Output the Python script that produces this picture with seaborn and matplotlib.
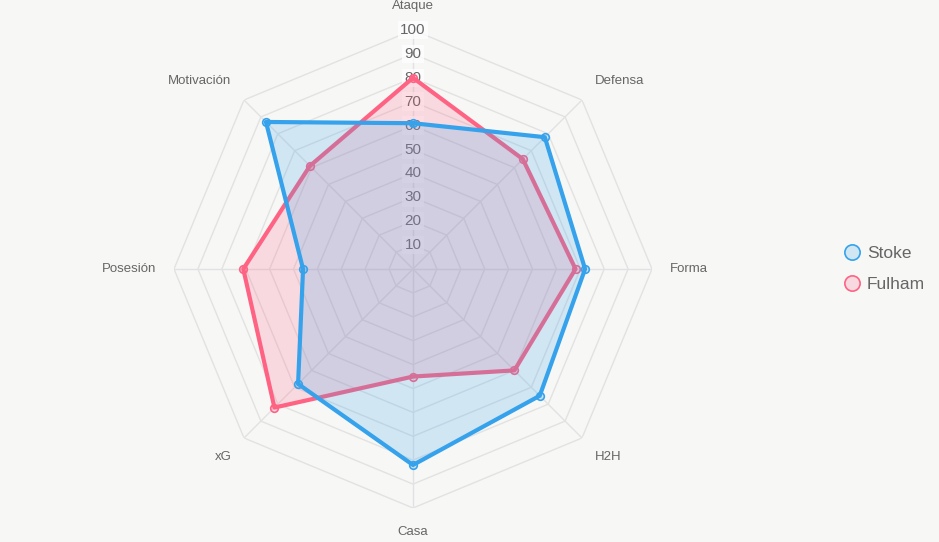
import numpy as np
import matplotlib
matplotlib.use("Agg")
import matplotlib.pyplot as plt
import seaborn as sns
from matplotlib.lines import Line2D

categories = ["Ataque", "Defensa", "Forma", "H2H", "Casa", "xG", "Posesión", "Motivación"]
stoke = [61, 78, 72, 75, 82, 68, 46, 87]
fulham = [80, 65, 68, 60, 45, 82, 71, 61]
ticks = [10, 20, 30, 40, 50, 60, 70, 80, 90, 100]
series_names = ["Stoke", "Fulham"]

sns.set_style("white")
plt.rcParams['font.family'] = ['Liberation Sans', 'DejaVu Sans']

W, H = 939, 542
bg = "#f7f7f6"
fig = plt.figure(figsize=(W / 100, H / 100), dpi=100, facecolor=bg)
cx, cy, R = 413, 269, 239
ax = fig.add_axes([(cx - R) / W, (H - cy - R) / H, 2 * R / W, 2 * R / H], projection="polar")
ax.set_facecolor("none")
ax.set_theta_zero_location("N")
ax.set_theta_direction(-1)
ax.set_ylim(0, 100)
ax.grid(False)
ax.spines["polar"].set_visible(False)
ax.set_xticks([])
ax.set_yticks([])

n = len(categories)
theta = np.arange(n) * 2 * np.pi / n
theta_c = np.append(theta, theta[0])

grid_col = "#e2e2e2"
for t in ticks:
    ax.plot(theta_c, [t] * (n + 1), color=grid_col, lw=1, zorder=1)
for th in theta:
    ax.plot([th, th], [0, 100], color=grid_col, lw=1, zorder=1)

for t in ticks:
    ax.text(0, t, str(t), ha="center", va="center", fontsize=11, color="#666666", zorder=2,
            bbox=dict(boxstyle="square,pad=0.15", fc="white", ec="none", alpha=0.75))

colors = {"Stoke": "#36A2EB", "Fulham": "#FF6384"}
data = {"Stoke": stoke, "Fulham": fulham}
for z, name in [(3, "Fulham"), (5, "Stoke")]:
    vals = data[name]
    vc = np.append(vals, vals[0])
    col = colors[name]
    ax.fill(theta_c, vc, color=col, alpha=0.2, lw=0, zorder=z)
    sns.lineplot(x=theta_c, y=vc, sort=False, ax=ax, color=col, lw=3, zorder=z + 0.5,
                 estimator=None)
    ax.scatter(theta, vals, s=30, facecolor=matplotlib.colors.to_rgba(col, 0.2),
               edgecolor=col, linewidth=1.2, zorder=z + 0.6)

rl = 107.5
for th, lab in zip(theta, categories):
    s, c = np.sin(th), np.cos(th)
    ha = "center" if abs(s) < 1e-6 else ("left" if s > 0 else "right")
    if abs(c) < 1e-6:
        va = "center"
    else:
        va = "bottom" if c > 0 else "top"
    ax.text(th, rl, lab, ha=ha, va=va, fontsize=9.5, color="#666666")

handles = [Line2D([0], [0], marker="o", linestyle="none", markersize=11,
                  markerfacecolor=matplotlib.colors.to_rgba(colors[nm], 0.2),
                  markeredgecolor=colors[nm], markeredgewidth=1.2) for nm in series_names]
fig.legend(handles, series_names, loc="center left", bbox_to_anchor=(826 / W, 1 - 269 / H),
           frameon=False, fontsize=12.5, labelcolor="#666666", handletextpad=0.25,
           labelspacing=0.95, handlelength=1.2)

fig.savefig("out.png", dpi=100, facecolor=bg)
